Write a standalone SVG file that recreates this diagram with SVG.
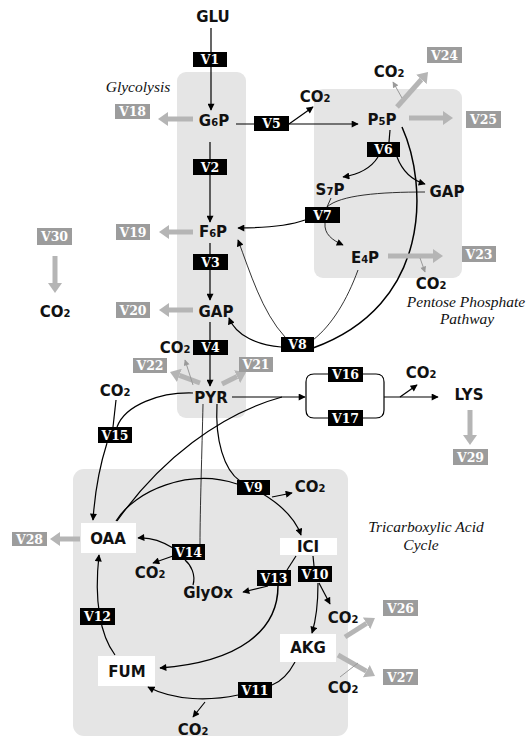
<svg xmlns="http://www.w3.org/2000/svg" width="529" height="738" viewBox="0 0 529 738">
<style>
.bg{fill:#ffffff}
.region{fill:#e5e5e5}
.met{font-family:"DejaVu Sans","Liberation Sans",sans-serif;font-weight:bold;font-size:15px;fill:#111;text-anchor:middle}
.sub{font-size:10px}
.wbox{fill:#ffffff}
.vb rect{fill:#000}
.vb text{font-family:"DejaVu Serif","Liberation Serif",serif;font-weight:bold;font-size:12.5px;fill:#fff;text-anchor:middle}
.vg rect{fill:#9c9c9c}
.vg text{font-family:"DejaVu Serif","Liberation Serif",serif;font-weight:bold;font-size:12.5px;fill:#fff;text-anchor:middle}
.path{font-family:"Liberation Serif","DejaVu Serif",serif;font-style:italic;font-size:15.5px;fill:#111;text-anchor:middle}
.c{fill:none;stroke:#000;stroke-width:1.2}
.ct{fill:none;stroke:#000;stroke-width:0.8}
.ck{fill:none;stroke:#000;stroke-width:1.5}
.ca{marker-end:url(#ab)}
.g{fill:none;stroke:#b5b5b5;stroke-width:5;marker-end:url(#ag)}
.gt{fill:none;stroke:#9a9a9a;stroke-width:1;marker-end:url(#at)}
</style>
<defs>
<marker id="ab" markerUnits="userSpaceOnUse" viewBox="0 0 10 10" markerWidth="8" markerHeight="7" refX="9" refY="5" orient="auto"><path d="M0,0 L10,5 L0,10 z" fill="#000"/></marker>
<marker id="ag" markerUnits="userSpaceOnUse" viewBox="0 0 10 14" markerWidth="10" markerHeight="14" refX="0" refY="7" orient="auto"><path d="M0,0 L10,7 L0,14 z" fill="#b5b5b5"/></marker>
<marker id="at" markerUnits="userSpaceOnUse" viewBox="0 0 10 10" markerWidth="7" markerHeight="6" refX="9" refY="5" orient="auto"><path d="M0,0 L10,5 L0,10 z" fill="#9a9a9a"/></marker>
</defs>
<rect class="bg" x="0" y="0" width="529" height="738"/>

<g id="regions">
<rect class="region" x="177" y="72" width="69" height="346" rx="9"/>
<rect class="region" x="314" y="89" width="148" height="189" rx="9"/>
<rect class="region" x="73" y="469" width="275" height="267" rx="11"/>
<text class="path" x="138" y="92">Glycolysis</text>
<text class="path" x="466" y="306.5">Pentose Phosphate</text>
<text class="path" x="467" y="324">Pathway</text>
<text class="path" x="426" y="532">Tricarboxylic Acid</text>
<text class="path" x="421" y="549.5">Cycle</text>
</g>

<g id="connectors">
<path class="c ca" d="M211,28 L211,110"/>
<path class="c ca" d="M210,142 L210,222"/>
<path class="c ca" d="M210,243 L210,300"/>
<path class="c ca" d="M210,322 L210,386"/>
<path class="c ca" d="M236,124 L358,124"/>
<path class="c ca" d="M289,124 L313,107"/>
<path class="c" d="M390,130 L389,142"/>
<path class="c ca" d="M378,157 Q368,173 343,177"/>
<path class="c ca" d="M397,157 Q405,178 425,184"/>
<path class="ct" d="M425,192 C380,192 340,195 327,207"/>
<path class="ct" d="M331,198 L327,207"/>
<path class="c ca" d="M305,220 C285,227 262,228 238,228"/>
<path class="ct ca" d="M325,223 C324,234 332,240 343,245"/>
<path class="ct" d="M358,270 C347,300 332,325 313,340"/>
<path class="ck" d="M402,127 C428,185 432,305 313,348"/>
<path class="c ca" d="M281,347 C258,345 236,336 229,318"/>
<path class="ct ca" d="M285,337 C262,312 250,272 238,240"/>
<path class="c ca" d="M232,397 L305,397"/>
<path class="c" d="M306,397 V382 Q306,374 314,374 H376 Q384,374 384,382 V410 Q384,418 376,418 H314 Q306,418 306,410 Z"/>
<path class="c ca" d="M384,397 L438,397"/>
<path class="c ca" d="M400,397 L417,385"/>
<path class="c" d="M117,521 C160,460 220,414 282,397"/>
<path class="c" d="M116,521 C135,490 190,468 237,484"/>
<path class="c" d="M217,404 C215,440 224,470 240,481"/>
<path class="ct" d="M203,404 C202,450 200,510 200,544"/>
<path class="c ca" d="M272,497 L292,493"/>
<path class="c ca" d="M263,494 C281,505 295,518 301,535"/>
<path class="c" d="M296,556 L287,570"/>
<path class="c ca" d="M268,586 L243,592"/>
<path class="ck ca" d="M278,586 C278,630 240,662 160,668"/>
<path class="c" d="M313,556 L314,566"/>
<path class="c ca" d="M319,583 L330,604"/>
<path class="c ca" d="M318,583 C318,605 316,620 312,633"/>
<path class="c" d="M295,662 C288,675 280,682 272,685"/>
<path class="c ca" d="M238,695 C210,701 175,701 148,687"/>
<path class="c ca" d="M205,702 L193,717"/>
<path class="c ca" d="M115,655 C100,635 94,600 99,555"/>
<path class="c" d="M193,585 C196,575 191,565 185,560"/>
<path class="c ca" d="M173,548 C160,540 150,537 138,538"/>
<path class="c ca" d="M173,556 L153,563"/>
<path class="c" d="M116,400 L113,427"/>
<path class="c" d="M193,393 C160,392 125,405 117,427"/>
<path class="c ca" d="M107,443 C100,465 95,490 93,520"/>
<path class="g" d="M193,119 L168,119"/>
<path class="g" d="M193,232 L169,232"/>
<path class="g" d="M193,310 L169,310"/>
<path class="g" d="M55,256 L55,283"/>
<path class="g" d="M200,383 L179.4,375.4"/>
<path class="g" d="M222,384 L237.1,376.6"/>
<path class="g" d="M397,107 L421.4,79.5"/>
<path class="g" d="M409,118 L443,118"/>
<path class="g" d="M388,256 L433,256"/>
<path class="g" d="M80,539 L60,539"/>
<path class="g" d="M470,410 L470,435"/>
<path class="g" d="M345,637 L366.5,623.3"/>
<path class="g" d="M338,655 L366.3,671.1"/>
<path class="gt" d="M402,98 L393,82"/>
<path class="gt" d="M420,258 L425,272"/>
<path class="gt" d="M193,385 L185,360"/>
<path d="M340,677 L358,663" fill="none" stroke="#9a9a9a" stroke-width="1"/>
</g>

<g id="GLU"><text class="met" x="213" y="22">GLU</text></g>
<g id="G6P"><text class="met" x="214" y="126">G<tspan class="sub">6</tspan>P</text></g>
<g id="F6P"><text class="met" x="213" y="237">F<tspan class="sub">6</tspan>P</text></g>
<g id="GAP_glyc"><text class="met" x="216" y="317">GAP</text></g>
<g id="PYR"><text class="met" x="211" y="403">PYR</text></g>
<g id="P5P"><text class="met" x="382" y="125">P<tspan class="sub">5</tspan>P</text></g>
<g id="S7P"><text class="met" x="330" y="195">S<tspan class="sub">7</tspan>P</text></g>
<g id="GAP_ppp"><text class="met" x="447" y="197">GAP</text></g>
<g id="E4P"><text class="met" x="365" y="263">E<tspan class="sub">4</tspan>P</text></g>
<g id="LYS"><text class="met" x="469" y="400">LYS</text></g>
<g id="OAA"><rect class="wbox" x="81" y="523" width="55" height="30"/><text class="met" x="108" y="544">OAA</text></g>
<g id="ICI"><rect class="wbox" x="280" y="538" width="57" height="17"/><text class="met" x="308" y="552">ICI</text></g>
<g id="AKG"><rect class="wbox" x="280" y="634" width="56" height="28"/><text class="met" x="308" y="653">AKG</text></g>
<g id="FUM"><rect class="wbox" x="98" y="656" width="57" height="30"/><text class="met" x="127" y="677">FUM</text></g>
<g id="GlyOx"><text class="met" x="208" y="598">GlyOx</text></g>

<g id="CO2_v5"><text class="met" x="315" y="102">CO<tspan class="sub">2</tspan></text></g>
<g id="CO2_p5p"><text class="met" x="389" y="77">CO<tspan class="sub">2</tspan></text></g>
<g id="CO2_e4p"><text class="met" x="431" y="289">CO<tspan class="sub">2</tspan></text></g>
<g id="CO2_v30"><text class="met" x="55" y="317">CO<tspan class="sub">2</tspan></text></g>
<g id="CO2_v4"><text class="met" x="175" y="353">CO<tspan class="sub">2</tspan></text></g>
<g id="CO2_v15"><text class="met" x="115" y="396">CO<tspan class="sub">2</tspan></text></g>
<g id="CO2_lys"><text class="met" x="421" y="378">CO<tspan class="sub">2</tspan></text></g>
<g id="CO2_v14"><text class="met" x="150" y="578">CO<tspan class="sub">2</tspan></text></g>
<g id="CO2_v9"><text class="met" x="310" y="492">CO<tspan class="sub">2</tspan></text></g>
<g id="CO2_v10"><text class="met" x="343" y="623">CO<tspan class="sub">2</tspan></text></g>
<g id="CO2_v27"><text class="met" x="343" y="693">CO<tspan class="sub">2</tspan></text></g>
<g id="CO2_v11"><text class="met" x="193" y="735">CO<tspan class="sub">2</tspan></text></g>

<g id="V1" class="vb"><rect x="193" y="52" width="34" height="15"/><text x="210" y="64">V1</text></g>
<g id="V2" class="vb"><rect x="193" y="159" width="34" height="16"/><text x="210" y="171.5">V2</text></g>
<g id="V3" class="vb"><rect x="193" y="254" width="35" height="16"/><text x="210.5" y="266.5">V3</text></g>
<g id="V4" class="vb"><rect x="193" y="340" width="35" height="15"/><text x="210.5" y="352">V4</text></g>
<g id="V5" class="vb"><rect x="254" y="116" width="35" height="15"/><text x="271.5" y="128">V5</text></g>
<g id="V6" class="vb"><rect x="367" y="142" width="33" height="15"/><text x="383.5" y="154">V6</text></g>
<g id="V7" class="vb"><rect x="305" y="207" width="35" height="16"/><text x="322.5" y="219.5">V7</text></g>
<g id="V8" class="vb"><rect x="281" y="337" width="33" height="15"/><text x="297.5" y="349">V8</text></g>
<g id="V9" class="vb"><rect x="237" y="480" width="33" height="15"/><text x="253.5" y="492">V9</text></g>
<g id="V10" class="vb"><rect x="298" y="566" width="34" height="16"/><text x="315" y="578.5">V10</text></g>
<g id="V11" class="vb"><rect x="238" y="682" width="34" height="16"/><text x="255" y="694.5">V11</text></g>
<g id="V12" class="vb"><rect x="80" y="608" width="35" height="17"/><text x="97.5" y="621">V12</text></g>
<g id="V13" class="vb"><rect x="257" y="570" width="34" height="16"/><text x="274" y="582.5">V13</text></g>
<g id="V14" class="vb"><rect x="172" y="544" width="33" height="16"/><text x="188.5" y="556.5">V14</text></g>
<g id="V15" class="vb"><rect x="98" y="427" width="34" height="16"/><text x="115" y="439.5">V15</text></g>
<g id="V16" class="vb"><rect x="328" y="367" width="35" height="15"/><text x="345.5" y="379">V16</text></g>
<g id="V17" class="vb"><rect x="328" y="410" width="35" height="16"/><text x="345.5" y="422.5">V17</text></g>

<g id="V18" class="vg"><rect x="115" y="104" width="35" height="15"/><text x="132.5" y="116">V18</text></g>
<g id="V19" class="vg"><rect x="116" y="224" width="34" height="16"/><text x="133" y="236.5">V19</text></g>
<g id="V20" class="vg"><rect x="116" y="302" width="34" height="16"/><text x="133" y="314.5">V20</text></g>
<g id="V21" class="vg"><rect x="239" y="357" width="34" height="15"/><text x="256" y="369">V21</text></g>
<g id="V22" class="vg"><rect x="133" y="358" width="34" height="15"/><text x="150" y="370">V22</text></g>
<g id="V23" class="vg"><rect x="462" y="246" width="34" height="16"/><text x="479" y="258.5">V23</text></g>
<g id="V24" class="vg"><rect x="427" y="47" width="35" height="16"/><text x="444.5" y="59.5">V24</text></g>
<g id="V25" class="vg"><rect x="466" y="111" width="35" height="17"/><text x="483.5" y="124">V25</text></g>
<g id="V26" class="vg"><rect x="383" y="600" width="35" height="16"/><text x="400.5" y="612.5">V26</text></g>
<g id="V27" class="vg"><rect x="383" y="669" width="35" height="16"/><text x="400.5" y="681.5">V27</text></g>
<g id="V28" class="vg"><rect x="12" y="532" width="35" height="14"/><text x="29.5" y="543.5">V28</text></g>
<g id="V29" class="vg"><rect x="453" y="449" width="35" height="16"/><text x="470.5" y="461.5">V29</text></g>
<g id="V30" class="vg"><rect x="37" y="228" width="35" height="17"/><text x="54.5" y="241">V30</text></g>
</svg>
